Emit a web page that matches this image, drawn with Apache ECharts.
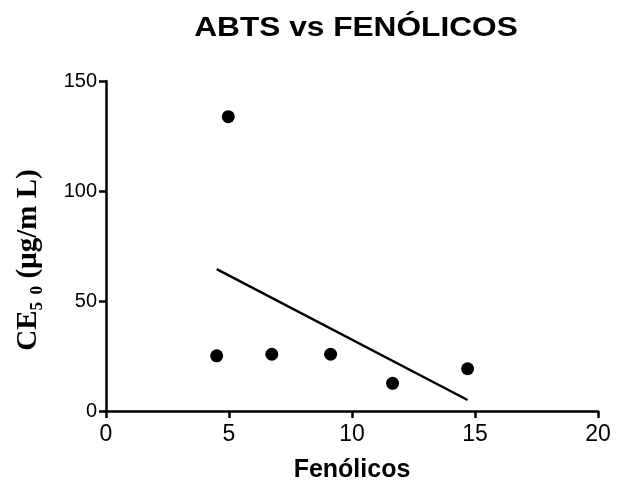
<!DOCTYPE html>
<html>
<head>
<meta charset="utf-8">
<script src="https://cdn.jsdelivr.net/npm/echarts@6/dist/echarts.min.js"></script>
<style>html,body{margin:0;padding:0;background:#fff;}#c{width:621px;height:489px;}</style>
</head>
<body>
<div id="c"></div>
<script>
const fenolicos = [4.5, 4.97, 6.74, 9.13, 11.65, 14.7];
const ce50 = [25.1, 133.8, 25.8, 25.8, 12.6, 19.2];
const fitX = [4.5, 14.7];
const fitY = [64.5, 5.0];
const xTicks = [0, 5, 10, 15, 20];
const yTicks = [0, 50, 100, 150];
const titleText = 'ABTS vs FENÓLICOS';

const chart = echarts.init(document.getElementById('c'));
const axisCommon = {
  axisLine: {show: true, onZero: false, lineStyle: {color: '#000', width: 2.5}},
  axisTick: {show: true, inside: false, length: 7, lineStyle: {color: '#000', width: 2.5}},
  splitLine: {show: false}
};
chart.setOption({
  animation: false,
  backgroundColor: '#fff',
  graphic: [{
    type: 'text', x: 356, y: 28, scaleX: 1.13,
    style: {
      text: titleText, textAlign: 'center', textVerticalAlign: 'middle',
      font: 'bold 28px "Liberation Sans", Arial', fill: '#000'
    }
  }],
  grid: {left: 106, right: 23, top: 81, bottom: 78, containLabel: false},
  xAxis: Object.assign({}, axisCommon, {
    type: 'value', min: xTicks[0], max: xTicks[xTicks.length - 1], interval: 5,
    axisLabel: {color: '#000', fontFamily: 'Liberation Sans, Arial', fontSize: 23, margin: 12},
    name: 'Fenólicos', nameLocation: 'middle', nameGap: 47,
    nameTextStyle: {fontFamily: 'Liberation Sans, Arial', fontWeight: 'bold', fontSize: 25, color: '#000'}
  }),
  yAxis: Object.assign({}, axisCommon, {
    type: 'value', min: yTicks[0], max: yTicks[yTicks.length - 1], interval: 50,
    axisLabel: {color: '#000', fontFamily: 'Liberation Sans, Arial', fontSize: 20, margin: 9},
    name: 'CE₅ ₀ (µg/m L)', nameLocation: 'middle', nameGap: 63, nameRotate: 90,
    nameTextStyle: {fontFamily: 'Liberation Serif, Times New Roman', fontWeight: 'bold', fontSize: 29, color: '#000', padding: [0, 28, 0, 0]}
  }),
  series: [
    {
      type: 'scatter', symbol: 'circle', symbolSize: 13,
      itemStyle: {color: '#000', opacity: 1},
      data: fenolicos.map((x, i) => [x, ce50[i]])
    },
    {
      type: 'line', symbol: 'none',
      lineStyle: {color: '#000', width: 2.5},
      data: fitX.map((x, i) => [x, fitY[i]])
    }
  ]
});
</script>
</body>
</html>
